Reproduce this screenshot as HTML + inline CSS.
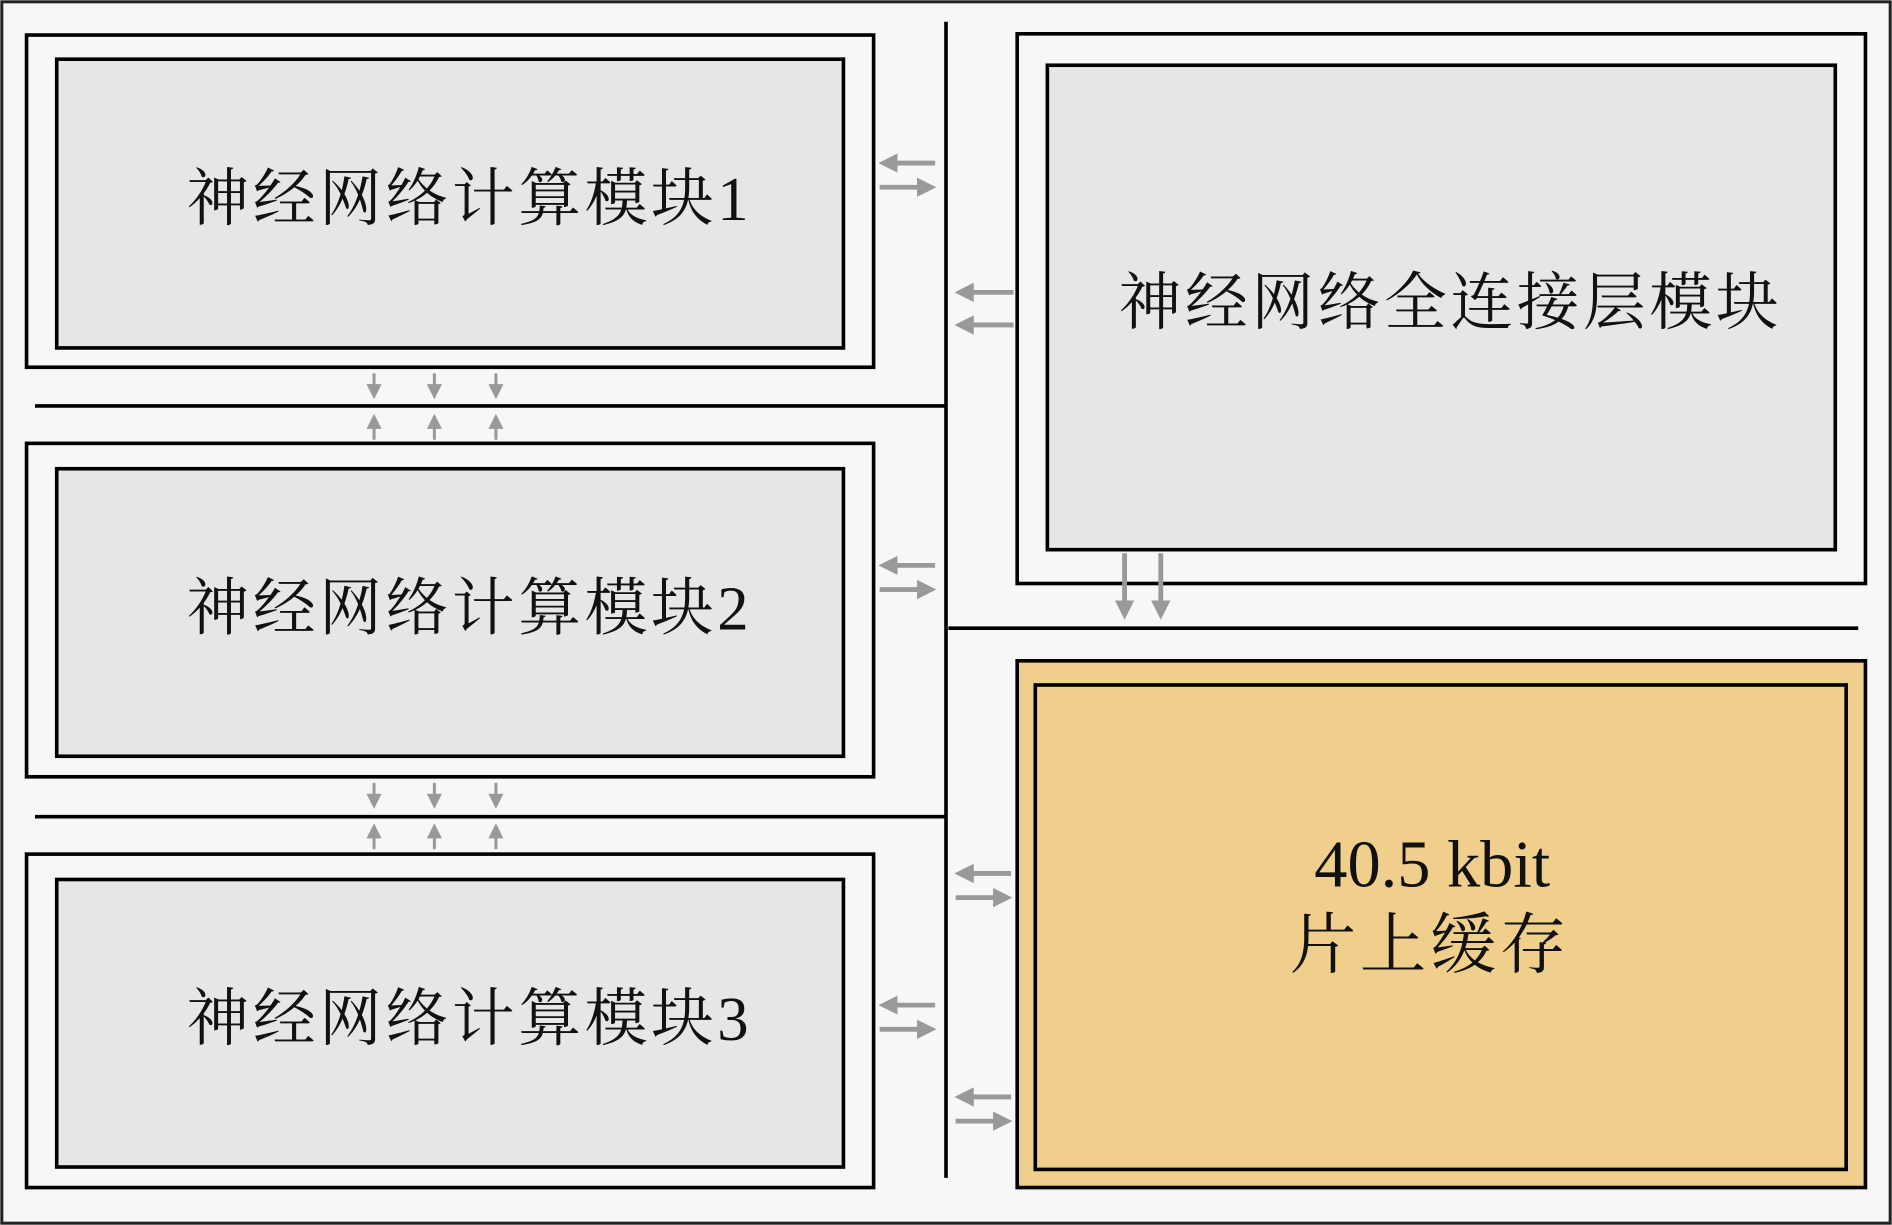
<!DOCTYPE html>
<html><head><meta charset="utf-8"><style>
html,body{margin:0;padding:0;background:#fff}
svg{display:block}
text{font-family:"Liberation Serif","Noto Serif CJK SC",serif;fill:#111}
</style></head><body>
<svg width="1892" height="1225" viewBox="0 0 1568 1014" preserveAspectRatio="none" xmlns="http://www.w3.org/2000/svg">
<defs>
<marker id="a" markerWidth="4" markerHeight="4" refX="3" refY="2" orient="auto" markerUnits="strokeWidth"><path d="M0,0 L4,2 L0,4 Z" fill="#999"/></marker>
<marker id="b" markerWidth="5" markerHeight="5" refX="4" refY="2.5" orient="auto" markerUnits="strokeWidth"><path d="M0,0 L5,2.5 L0,5 Z" fill="#999"/></marker>
</defs>
<rect x="1.5" y="1.5" width="1565" height="1011" fill="#f7f7f7" stroke="#222" stroke-width="2.5"/>
<g stroke="#000" stroke-width="3">
<rect x="22" y="29" width="702" height="275" fill="#f7f7f7"/>
<rect x="47" y="49" width="652" height="239" fill="#e6e6e6"/>
<rect x="22" y="367" width="702" height="276" fill="#f7f7f7"/>
<rect x="47" y="388" width="652" height="238" fill="#e6e6e6"/>
<rect x="22" y="707" width="702" height="276" fill="#f7f7f7"/>
<rect x="47" y="728" width="652" height="238" fill="#e6e6e6"/>
<rect x="843" y="28" width="703" height="455" fill="#f7f7f7"/>
<rect x="868" y="54" width="653" height="401" fill="#e6e6e6"/>
<rect x="843" y="547" width="703" height="436" fill="#f0cf8c"/>
<rect x="858" y="567" width="672" height="401" fill="#f0cf8c"/>
<line x1="29" y1="336" x2="784" y2="336"/>
<line x1="29" y1="676" x2="784" y2="676"/>
<line x1="784" y1="18" x2="784" y2="975"/>
<line x1="786" y1="520" x2="1540" y2="520"/>
</g>
<g stroke="#999" stroke-width="4" fill="none" marker-end="url(#a)">
<line x1="775" y1="135" x2="732" y2="135"/><line x1="729" y1="155" x2="772" y2="155"/>
<line x1="775" y1="468" x2="732" y2="468"/><line x1="729" y1="488" x2="772" y2="488"/>
<line x1="775" y1="832" x2="732" y2="832"/><line x1="729" y1="852" x2="772" y2="852"/>
<line x1="838" y1="723" x2="795" y2="723"/><line x1="792" y1="743" x2="835" y2="743"/>
<line x1="838" y1="908" x2="795" y2="908"/><line x1="792" y1="928" x2="835" y2="928"/>
<line x1="840" y1="242" x2="795" y2="242"/><line x1="840" y1="269" x2="795" y2="269"/>
<line x1="932" y1="458" x2="932" y2="509"/><line x1="962" y1="458" x2="962" y2="509"/>
</g>
<g stroke="#999" stroke-width="2.5" fill="none" marker-end="url(#b)">
<line x1="310" y1="309" x2="310" y2="328"/><line x1="360" y1="309" x2="360" y2="328"/><line x1="411" y1="309" x2="411" y2="328"/>
<line x1="310" y1="364" x2="310" y2="345"/><line x1="360" y1="364" x2="360" y2="345"/><line x1="411" y1="364" x2="411" y2="345"/>
<line x1="310" y1="648" x2="310" y2="667"/><line x1="360" y1="648" x2="360" y2="667"/><line x1="411" y1="648" x2="411" y2="667"/>
<line x1="310" y1="703" x2="310" y2="684"/><line x1="360" y1="703" x2="360" y2="684"/><line x1="411" y1="703" x2="411" y2="684"/>
</g>
<g font-size="52" text-anchor="middle" letter-spacing="3">
<text x="389" y="182">神经网络计算模块1</text>
<text x="389" y="521">神经网络计算模块2</text>
<text x="389" y="861">神经网络计算模块3</text>
<text x="1202" y="268">神经网络全连接层模块</text>
</g>
<g font-size="55" text-anchor="middle">
<text x="1187" y="734">40.5 kbit</text>
<text x="1185" y="801" letter-spacing="3">片上缓存</text>
</g>
</svg>
</body></html>
